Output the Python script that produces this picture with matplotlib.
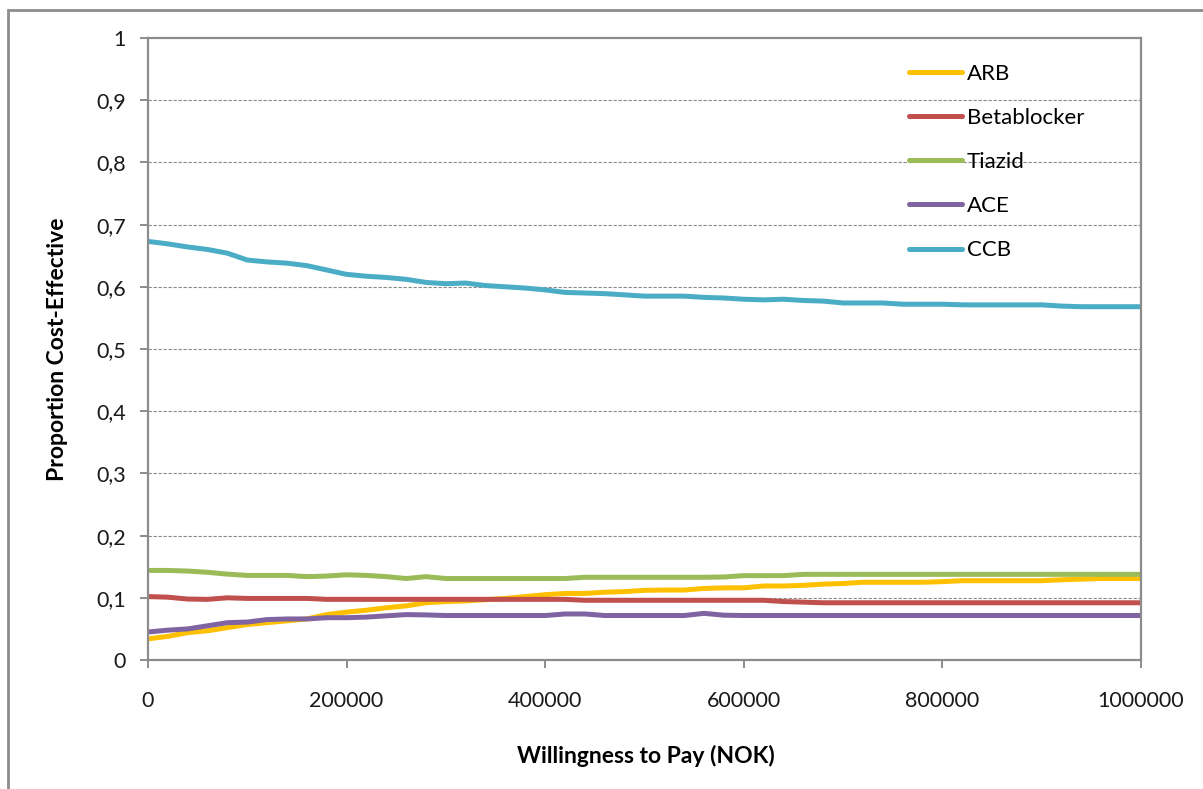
"""Cost-effectiveness acceptability curves for antihypertensive drug classes."""

import numpy as np
import matplotlib

matplotlib.use("Agg")
import matplotlib.pyplot as plt
from matplotlib.patches import Rectangle
from matplotlib.ticker import FuncFormatter

plt.rcParams["font.family"] = ["Lato", "DejaVu Sans"]

# Willingness to pay grid (NOK), step 20000
wtp = np.arange(0, 1000001, 20000)

arb = [0.034, 0.038, 0.044, 0.047, 0.052, 0.057, 0.060, 0.063, 0.066, 0.073,
       0.077, 0.080, 0.084, 0.087, 0.092, 0.094, 0.095, 0.097, 0.099, 0.102,
       0.105, 0.107, 0.107, 0.109, 0.110, 0.112, 0.1125, 0.1125, 0.115, 0.116,
       0.116, 0.119, 0.119, 0.120, 0.122, 0.123, 0.125, 0.125, 0.125, 0.125,
       0.126, 0.1275, 0.1275, 0.1275, 0.1275, 0.1275, 0.129, 0.130, 0.131, 0.131,
       0.131]
betablocker = [0.102, 0.101, 0.098, 0.0975, 0.100, 0.099, 0.099, 0.099, 0.099, 0.0975,
               0.0975, 0.0975, 0.0975, 0.0975, 0.0975, 0.0975, 0.0975, 0.0975, 0.0975, 0.0975,
               0.0975, 0.0975, 0.096, 0.096, 0.096, 0.096, 0.096, 0.096, 0.096, 0.096,
               0.096, 0.096, 0.094, 0.093, 0.092, 0.092, 0.092, 0.092, 0.092, 0.092,
               0.092, 0.092, 0.092, 0.092, 0.092, 0.092, 0.092, 0.092, 0.092, 0.092,
               0.092]
tiazid = [0.144, 0.144, 0.143, 0.141, 0.138, 0.136, 0.136, 0.136, 0.134, 0.135,
          0.137, 0.136, 0.134, 0.131, 0.134, 0.131, 0.131, 0.131, 0.131, 0.131,
          0.131, 0.131, 0.133, 0.133, 0.133, 0.133, 0.133, 0.133, 0.133, 0.1335,
          0.1356, 0.1356, 0.1356, 0.1377, 0.1377, 0.1377, 0.1377, 0.1377, 0.1377, 0.1377,
          0.1377, 0.1377, 0.1377, 0.1377, 0.1377, 0.1377, 0.1377, 0.1377, 0.1377, 0.1377,
          0.1377]
ace = [0.045, 0.048, 0.050, 0.055, 0.060, 0.061, 0.065, 0.066, 0.066, 0.068,
       0.068, 0.069, 0.071, 0.073, 0.0725, 0.0715, 0.0715, 0.0715, 0.0715, 0.0715,
       0.0715, 0.074, 0.074, 0.0715, 0.0715, 0.0715, 0.0715, 0.0715, 0.075, 0.072,
       0.0715, 0.0715, 0.0715, 0.0715, 0.0715, 0.0715, 0.0715, 0.0715, 0.0715, 0.0715,
       0.0715, 0.0715, 0.0715, 0.0715, 0.0715, 0.0715, 0.0715, 0.0715, 0.0715, 0.0715,
       0.0715]
ccb = [0.673, 0.669, 0.664, 0.660, 0.654, 0.643, 0.640, 0.638, 0.634, 0.627,
       0.620, 0.617, 0.615, 0.612, 0.607, 0.605, 0.606, 0.602, 0.600, 0.598,
       0.595, 0.591, 0.590, 0.589, 0.587, 0.585, 0.585, 0.585, 0.583, 0.582,
       0.580, 0.579, 0.580, 0.578, 0.577, 0.574, 0.574, 0.574, 0.572, 0.572,
       0.572, 0.571, 0.571, 0.571, 0.571, 0.571, 0.569, 0.568, 0.568, 0.568,
       0.568]

series_names = ["ARB", "Betablocker", "Tiazid", "ACE", "CCB"]
series_values = [arb, betablocker, tiazid, ace, ccb]
colors = ["#FFC000", "#C0504D", "#9BBB59", "#8064A2", "#4BACC6"]

x_ticks = [0, 200000, 400000, 600000, 800000, 1000000]
y_ticks = np.arange(0, 1.01, 0.1)

fig = plt.figure(figsize=(12.03, 7.89), dpi=100)
ax = fig.add_axes([148 / 1203, 1 - 660 / 789, 993 / 1203, 622 / 789])

# outer chart border (cut off at right and bottom)
fig.patches.append(Rectangle((8 / 1203, -0.05), 1.2, (789 - 10) / 789 + 0.05,
                             transform=fig.transFigure, fill=False,
                             edgecolor="#8c8c8c", linewidth=2))

for name, vals, c in zip(series_names, series_values, colors):
    ax.plot(wtp, vals, color=c, linewidth=3.6, label=name, solid_capstyle="round")

ax.set_xlim(0, 1000000)
ax.set_ylim(0, 1)
ax.set_xticks(x_ticks)
ax.set_xticklabels([str(t) for t in x_ticks])
ax.set_yticks(y_ticks)
ax.yaxis.set_major_formatter(
    FuncFormatter(lambda v, p: "0" if v == 0 else ("1" if abs(v - 1) < 1e-9 else f"{v:.1f}".replace(".", ",")))
)

for v in y_ticks[1:-1]:
    ax.axhline(v, color="#8a8a8a", linewidth=0.8, linestyle=(0, (3, 1.5)), zorder=0)

for sp in ax.spines.values():
    sp.set_color("#8c8c8c")
    sp.set_linewidth(1.6)

ax.tick_params(axis="both", direction="out", length=6, width=1.4, color="#8c8c8c",
               labelsize=15.5, labelcolor="#1a1a1a")
ax.tick_params(axis="y", pad=10)
ax.tick_params(axis="x", pad=16)

ax.set_xlabel("Willingness to Pay (NOK)", fontsize=16.5, fontweight="bold")
ax.set_ylabel("Proportion Cost-Effective", fontsize=16.5, fontweight="bold")
ax.xaxis.set_label_coords(0.5015, -0.137)
ax.yaxis.set_label_coords(-0.081, 0.5)

ax.legend(loc="upper left", bbox_to_anchor=(0.746, 0.991), frameon=False,
          fontsize=16, handlelength=2.4, handletextpad=0.2, labelspacing=1.09)

plt.savefig("out.png", dpi=100)
plt.close()
